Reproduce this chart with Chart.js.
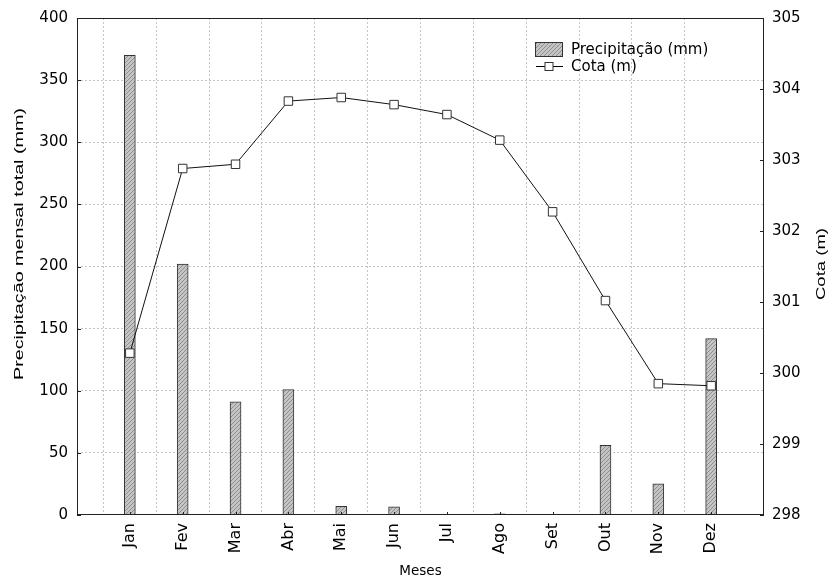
<!DOCTYPE html>
<html>
<head>
<meta charset="utf-8">
<script src="https://cdn.jsdelivr.net/npm/chart.js@4/dist/chart.umd.min.js"></script>
<style>
  html, body { margin: 0; padding: 0; background: #fff; }
  #wrap { width: 832px; height: 582px; }
</style>
</head>
<body>
<div id="wrap"><canvas id="c" width="832" height="582"></canvas></div>
<script>
// Monthly totals and reservoir level
const months = ['Jan', 'Fev', 'Mar', 'Abr', 'Mai', 'Jun', 'Jul', 'Ago', 'Set', 'Out', 'Nov', 'Dez'];
const precipitacao = [370, 202, 91, 101, 7, 6.5, 0, 1, 0, 56, 25, 142];
const cota = [300.28, 302.88, 302.94, 303.83, 303.88, 303.78, 303.64, 303.28, 302.27, 301.02, 299.85, 299.82];
const precipRange = [0, 400];
const precipStep = 50;
const cotaRange = [298, 305];
const cotaStep = 1;

// one empty slot on each side so the months sit one step in from the frame
const labels = [''].concat(months, ['']);
const barData = [null].concat(precipitacao, [null]);
const lineData = [null].concat(cota, [null]);

const FONT = 'DejaVu Sans, Liberation Sans, sans-serif';
const TITLE_FONT = 'Liberation Sans, Arial, sans-serif';

// diagonal hatch for the bars
function hatchPattern() {
  const p = document.createElement('canvas');
  p.width = 4; p.height = 4;
  const g = p.getContext('2d');
  g.fillStyle = '#c4c4c4';
  g.fillRect(0, 0, 4, 4);
  g.strokeStyle = '#8e8e8e';
  g.lineWidth = 1;
  g.beginPath();
  g.moveTo(0, 4); g.lineTo(4, 0);
  g.moveTo(-1, 1); g.lineTo(1, -1);
  g.moveTo(3, 5); g.lineTo(5, 3);
  g.stroke();
  return g.createPattern(p, 'repeat');
}
const hatch = hatchPattern();

const lastIdx = labels.length - 1;
const gridColor = '#c4c4c4';

// vertical axis title, read bottom to top, stretched to a given length
function drawVerticalTitle(ctx, text, cx, cy, length, size) {
  ctx.save();
  ctx.font = size + 'px ' + TITLE_FONT;
  const w = ctx.measureText(text).width;
  ctx.translate(cx, cy);
  ctx.rotate(-Math.PI / 2);
  ctx.scale(length / w, 1);
  ctx.fillStyle = '#000';
  ctx.textAlign = 'center';
  ctx.textBaseline = 'middle';
  ctx.fillText(text, 0, 0);
  ctx.restore();
}

// frame, inward tick marks, axis titles and the legend box
const framePlugin = {
  id: 'frame',
  afterDatasetsDraw(chart) {
    const { ctx, chartArea: a, scales } = chart;
    ctx.save();
    ctx.strokeStyle = '#222';
    ctx.lineWidth = 1;
    ctx.strokeRect(Math.round(a.left) + 0.5, Math.round(a.top) + 0.5,
                   Math.round(a.right - a.left) - 1, Math.round(a.bottom - a.top) - 1);
    ctx.beginPath();
    scales.y.ticks.forEach((t, i) => {
      const y = Math.round(scales.y.getPixelForTick(i)) + 0.5;
      ctx.moveTo(a.left, y); ctx.lineTo(a.left + 4, y);
    });
    scales.y1.ticks.forEach((t, i) => {
      const y = Math.round(scales.y1.getPixelForTick(i)) + 0.5;
      ctx.moveTo(a.right, y); ctx.lineTo(a.right - 4, y);
    });
    for (let i = 1; i < lastIdx; i++) {
      const x = Math.round(scales.x.getPixelForTick(i)) + 0.5;
      ctx.moveTo(x, a.bottom); ctx.lineTo(x, a.bottom - 3);
    }
    ctx.stroke();
    ctx.restore();
  },
  afterDraw(chart) {
    const { ctx, chartArea: a } = chart;
    const bar = chart.data.datasets[0];
    const line = chart.data.datasets[1];

    drawVerticalTitle(ctx, 'Precipitação mensal total (mm)', 20, 244, 272, 12);
    drawVerticalTitle(ctx, 'Cota (m)', 822, 264, 72, 12);

    const x0 = a.right - 229;
    ctx.save();
    // bar entry
    ctx.fillStyle = hatch;
    ctx.fillRect(x0, a.top + 24, 28, 15);
    ctx.strokeStyle = '#333';
    ctx.lineWidth = 1;
    ctx.strokeRect(x0 + 0.5, a.top + 24.5, 27, 14);
    ctx.fillStyle = '#000';
    ctx.font = '15px ' + FONT;
    ctx.textBaseline = 'middle';
    ctx.textAlign = 'left';
    ctx.fillText(bar.label, x0 + 36, a.top + 32);
    // line entry
    const ly = a.top + 48.5;
    ctx.strokeStyle = '#000';
    ctx.beginPath();
    ctx.moveTo(x0 + 1, ly); ctx.lineTo(x0 + 28, ly);
    ctx.stroke();
    ctx.fillStyle = '#fff';
    ctx.fillRect(x0 + 10, ly - 4, 8, 8);
    ctx.strokeStyle = '#333';
    ctx.strokeRect(x0 + 10, ly - 4, 8, 8);
    ctx.fillStyle = '#000';
    ctx.fillText(line.label, x0 + 36, ly + 1);
    ctx.restore();
  }
};

new Chart(document.getElementById('c'), {
  type: 'bar',
  data: {
    labels: labels,
    datasets: [
      {
        type: 'bar',
        label: 'Precipitação (mm)',
        data: barData,
        yAxisID: 'y',
        backgroundColor: hatch,
        borderColor: '#333',
        borderWidth: 1,
        borderSkipped: 'bottom',
        barThickness: 11,
        order: 2
      },
      {
        type: 'line',
        label: 'Cota (m)',
        data: lineData,
        yAxisID: 'y1',
        borderColor: '#111',
        borderWidth: 1,
        pointStyle: 'rect',
        pointRadius: 6,
        pointBackgroundColor: '#fff',
        pointBorderColor: '#333',
        pointBorderWidth: 1,
        tension: 0,
        spanGaps: false,
        order: 1
      }
    ]
  },
  options: {
    responsive: false,
    animation: false,
    devicePixelRatio: 1,
    layout: { padding: { top: 16, left: 0, right: 0, bottom: 0 } },
    plugins: {
      legend: { display: false },
      tooltip: { enabled: false }
    },
    scales: {
      x: {
        type: 'category',
        offset: false,
        border: { display: false, dash: [2, 2] },
        grid: {
          color: c => (c.index === 0 || c.index === lastIdx) ? 'rgba(0,0,0,0)' : gridColor,
          lineWidth: 1,
          drawTicks: false
        },
        ticks: {
          autoSkip: false,
          minRotation: 90,
          maxRotation: 90,
          padding: 8,
          color: '#000',
          font: { family: FONT, size: 16 }
        },
        title: {
          display: true,
          text: 'Meses',
          color: '#000',
          font: { family: FONT, size: 13.5 },
          padding: { top: 0, bottom: 2 }
        },
        afterFit: s => { s.height = 67; }
      },
      y: {
        position: 'left',
        min: precipRange[0],
        max: precipRange[1],
        border: { display: false, dash: [2, 2] },
        grid: {
          color: c => (c.tick && (c.tick.value === precipRange[0] || c.tick.value === precipRange[1])) ? 'rgba(0,0,0,0)' : gridColor,
          lineWidth: 1,
          drawTicks: false
        },
        ticks: {
          stepSize: precipStep,
          padding: 9,
          color: '#000',
          font: { family: FONT, size: 15 }
        },
        title: { display: false },
        afterFit: s => { s.width = 77; }
      },
      y1: {
        position: 'right',
        min: cotaRange[0],
        max: cotaRange[1],
        border: { display: false },
        grid: { display: false, drawTicks: false },
        ticks: {
          stepSize: cotaStep,
          padding: 8,
          color: '#000',
          font: { family: FONT, size: 15 }
        },
        title: { display: false },
        afterFit: s => { s.width = 68; }
      }
    }
  },
  plugins: [framePlugin]
});
</script>
</body>
</html>
